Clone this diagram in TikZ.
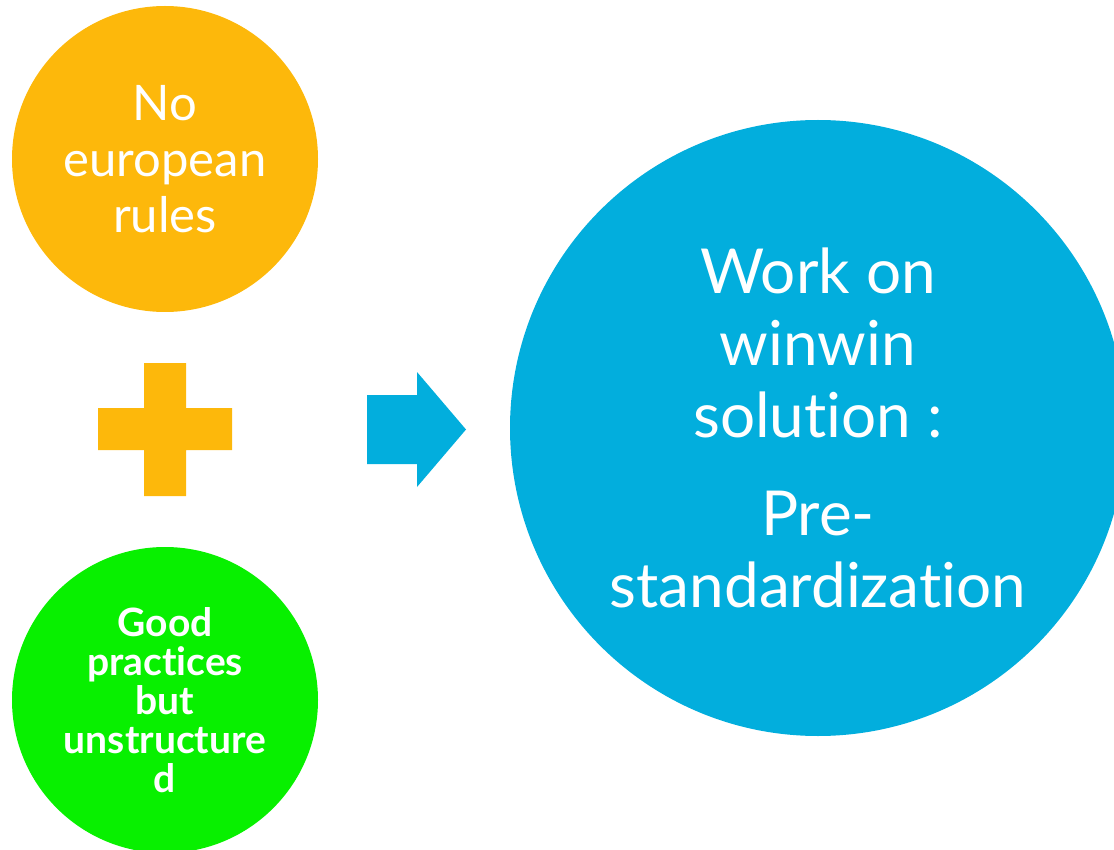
\documentclass[tikz,border=0pt]{standalone}
\usepackage{fontspec}
\setmainfont{Lato}[Ligatures={NoCommon}]
\definecolor{ruleorange}{HTML}{FDB80B}
\definecolor{goodgreen}{HTML}{08F000}
\definecolor{winblue}{HTML}{02AEDD}

\begin{document}
\begin{tikzpicture}[
  x=0.5pt, y=-0.5pt,
  every node/.style={align=center, text=white},
  bubble/.style={circle, inner sep=0pt}
]
\useasboundingbox (0,0) rectangle (1114,850);

\node[bubble, fill=ruleorange, minimum size=153pt,
  font=\fontsize{24.5}{28}\selectfont] (rules) at (165,159) {No\\european\\rules};
\node[bubble, fill=goodgreen, minimum size=153pt,
  font=\fontsize{19.5}{19.5}\selectfont\bfseries] (good) at (165,700)
  {Good\\practices\\but\\unstructure\\d};
\node[bubble, fill=winblue, minimum size=308pt,
  font=\fontsize{31}{36}\selectfont] (winwin) at (818,428)
  {Work on\\winwin\\solution :\\[13pt]Pre-\\standardization};

% plus sign and arrow
\fill[ruleorange] (144,363) -- (186,363) -- (186,408) -- (232,408) -- (232,450)
  -- (186,450) -- (186,496) -- (144,496) -- (144,450) -- (98,450) -- (98,408)
  -- (144,408) -- cycle;
\fill[winblue] (367,395) -- (417,395) -- (417,372) -- (466,429.5) -- (417,487)
  -- (417,464) -- (367,464) -- cycle;

\end{tikzpicture}
\end{document}
